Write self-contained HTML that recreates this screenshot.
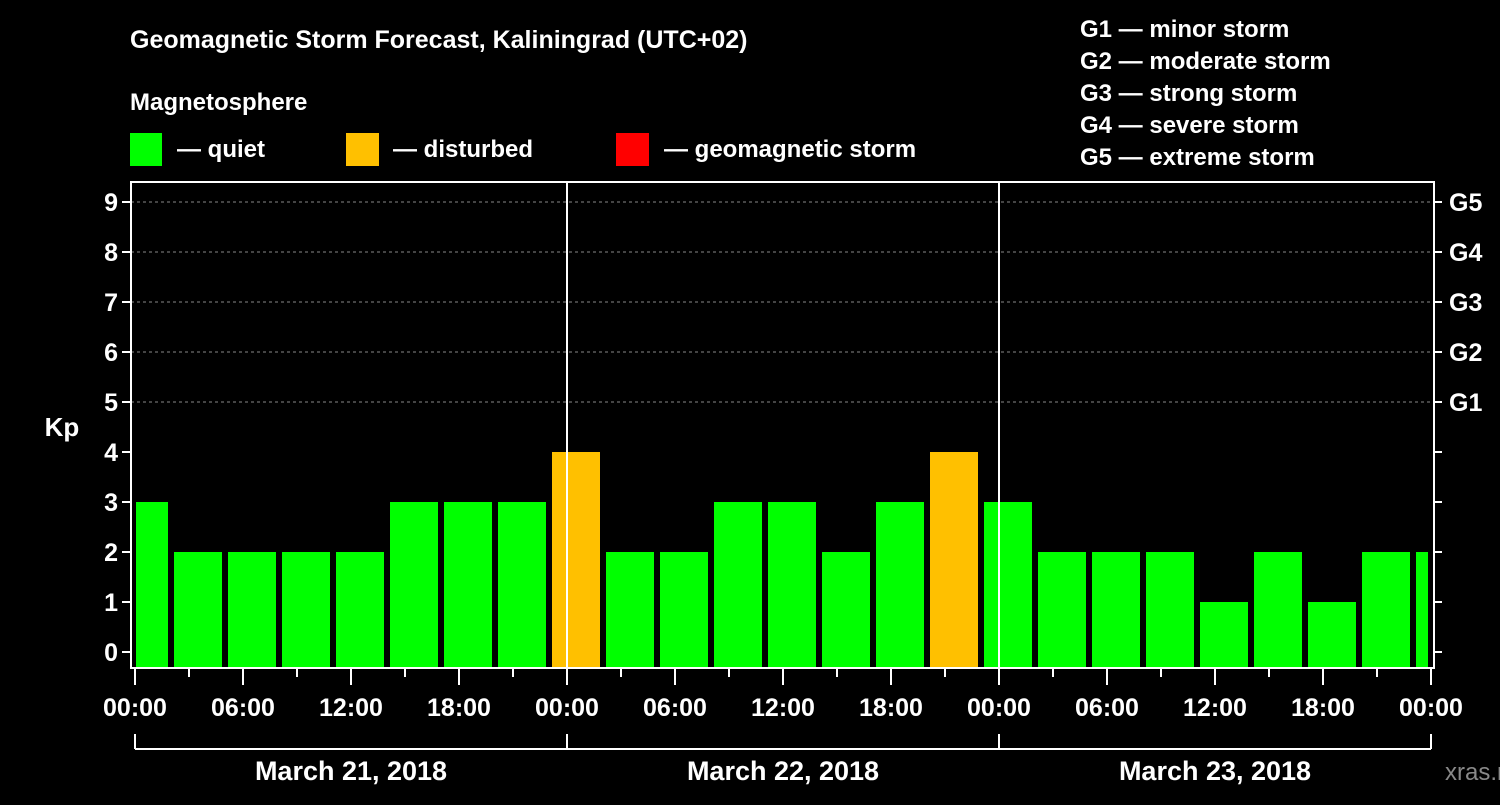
<!DOCTYPE html>
<html><head><meta charset="utf-8"><style>
body{margin:0;background:#000;}
svg text{font-family:"Liberation Sans",Arial,sans-serif;font-weight:bold;fill:#fff;}
</style></head><body>
<svg id="c" width="1500" height="800" xmlns="http://www.w3.org/2000/svg">
<rect width="1500" height="800" fill="#000"/>
<text x="130" y="48" font-size="25">Geomagnetic Storm Forecast, Kaliningrad (UTC+02)</text>
<text x="130" y="110" font-size="24">Magnetosphere</text>
<g><rect x="130" y="133" width="32" height="33" fill="#00ff00"/><text x="177" y="157" font-size="24">— quiet</text></g>
<g><rect x="346" y="133" width="33" height="33" fill="#ffc000"/><text x="393" y="157" font-size="24">— disturbed</text></g>
<g><rect x="616" y="133" width="33" height="33" fill="#ff0000"/><text x="664" y="157" font-size="24">— geomagnetic storm</text></g>
<g font-size="24">
<text x="1080" y="37">G1 — minor storm</text>
<text x="1080" y="69">G2 — moderate storm</text>
<text x="1080" y="101">G3 — strong storm</text>
<text x="1080" y="133">G4 — severe storm</text>
<text x="1080" y="165">G5 — extreme storm</text>
</g>
<text x="62" y="436" font-size="26" text-anchor="middle">Kp</text>
<g id="grid"></g><g id="bars"></g><g id="axes"></g>
<text x="1445" y="780" font-size="24" fill="#888" style="fill:#888;font-weight:normal">xras.ru</text>
</svg>
<script>
const kpValues=[3,2,2,2,2,3,3,3,4,2,2,3,3,2,3,4,3,2,2,2,1,2,1,2,2];
const yTicks=[0,1,2,3,4,5,6,7,8,9];
const gLabels=["G1","G2","G3","G4","G5"];
const xTickLabels=["00:00","06:00","12:00","18:00","00:00","06:00","12:00","18:00","00:00","06:00","12:00","18:00","00:00"];
const dateLabels=["March 21, 2018","March 22, 2018","March 23, 2018"];
const NS="http://www.w3.org/2000/svg";
const L=131,R=1434,T=182,B=668,X0=135,X1=1431;
const y=v=>652-v*50;
const x=h=>X0+(X1-X0)*h/72;
function mk(tag,attrs,parent,text){const e=document.createElementNS(NS,tag);for(const k in attrs)e.setAttribute(k,attrs[k]);if(text!==undefined)e.textContent=text;document.getElementById(parent).appendChild(e);return e;}
yTicks.forEach(v=>{
 if(v>=5){const g=mk('line',{x1:L,x2:R,y1:y(v),y2:y(v),stroke:'#888','stroke-dasharray':'3,3','stroke-width':1},'grid');
 
 }
 const t=mk('text',{x:118,y:y(v)+9,'font-size':25,'text-anchor':'end'},'axes',String(v));
 
 
 mk('line',{x1:122,x2:L,y1:y(v),y2:y(v),stroke:'#fff','stroke-width':2},'axes');
 mk('line',{x1:R,x2:1442,y1:y(v),y2:y(v),stroke:'#fff','stroke-width':2},'axes');
 if(v>=5){const g=mk('text',{x:1449,y:y(v)+9,'font-size':25},'axes',gLabels[v-5]);
 
 }
});
kpValues.forEach((v,i)=>{
 let s=x(-1+3*i)+3,e=x(2+3*i)-3;
 s=Math.max(s,L+5);e=Math.min(e,X1-3);
 const r=mk('rect',{x:s,y:y(v),width:e-s,height:B-1-y(v),fill:v>=5?'#ff0000':(v>=4?'#ffc000':'#00ff00')},'bars');
 
 
});
mk('rect',{x:L,y:T,width:R-L,height:B-T,fill:'none',stroke:'#fff','stroke-width':2},'axes');
[24,48].forEach(h=>mk('line',{x1:x(h),x2:x(h),y1:T,y2:B,stroke:'#fff','stroke-width':2},'axes'));
for(let h=0;h<=72;h+=3){const maj=h%6==0;mk('line',{x1:x(h),x2:x(h),y1:B,y2:B+(maj?17:9),stroke:'#fff','stroke-width':2},'axes');}
xTickLabels.forEach((l,i)=>{const t=mk('text',{x:x(i*6),y:716,'font-size':25,'text-anchor':'middle'},'axes',l);
 
 });
mk('line',{x1:X0,x2:X1,y1:749,y2:749,stroke:'#fff','stroke-width':2},'axes');
[0,24,48,72].forEach(h=>mk('line',{x1:x(h),x2:x(h),y1:734,y2:749,stroke:'#fff','stroke-width':2},'axes'));
dateLabels.forEach((d,i)=>{const t=mk('text',{x:x(12+24*i),y:780,'font-size':27,'text-anchor':'middle'},'axes',d);
 
 });
</script>
</body></html>
